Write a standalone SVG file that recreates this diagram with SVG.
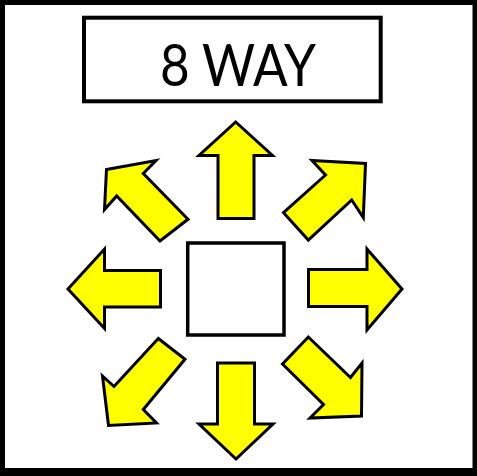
<svg xmlns="http://www.w3.org/2000/svg" width="477" height="476" viewBox="0 0 477 476">
<style>
.arrow{fill:#FFFF00;stroke:#000;stroke-width:3;stroke-linejoin:miter}
.box{fill:#fff;stroke:#000}
.title{font-family:Lato,"Liberation Sans",Arial,sans-serif;font-size:59px;fill:#000}
</style>
<rect x="0" y="0" width="477" height="476" fill="#000"/>
<rect x="5" y="5" width="467.5" height="463" fill="#fff"/>
<g id="title">
<rect class="box" x="84" y="17.7" width="296.7" height="83.6" stroke-width="4"/>
<text class="title" x="160" y="86" textLength="156" lengthAdjust="spacingAndGlyphs">8 WAY</text>
</g>
<g id="center">
<rect class="box" x="187.7" y="243" width="96.3" height="92" stroke-width="3.5"/>
</g>
<g id="arrows">
<g id="arrow-up"><polygon class="arrow" points="235.7,122 272.5,155.5 254,155.5 254,218.5 218,218.5 218,155.5 199,155.5"/></g>
<g id="arrow-down"><polygon class="arrow" points="217.5,363 254.5,363 254.5,424 273,424 236,459 199,424 217.5,424"/></g>
<g id="arrow-left"><polygon class="arrow" points="68,289 104.5,249 104.5,270.5 160.5,270.5 160.5,307 104.5,307 104.5,328.5"/></g>
<g id="arrow-right"><polygon class="arrow" points="308.5,269.5 367,269.5 367,249 402,289 367,330 367,306.5 308.5,306.5"/></g>
<g id="arrow-upleft"><polygon class="arrow" points="106.5,169.5 156,160.5 143.3,173.5 188,219.3 160,241 116.7,196 104.5,209.5"/></g>
<g id="arrow-upright"><polygon class="arrow" points="312,160.5 365.5,163.5 363.3,217.5 351.7,200 308.3,240 283.5,212.7 325.5,175"/></g>
<g id="arrow-downleft"><polygon class="arrow" points="158.3,338.5 185,359.3 143.3,409.5 156.5,423 108.5,425.5 102.5,376 114,386.5"/></g>
<g id="arrow-downright"><polygon class="arrow" points="308.3,337 350.5,377.5 362,363 361.5,416 310,418 323.5,404.5 282.5,364"/></g>
</g>
</svg>
